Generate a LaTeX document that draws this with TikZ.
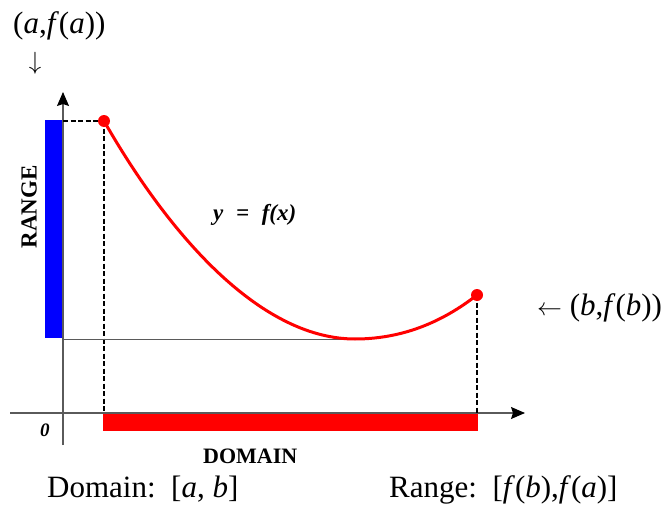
\documentclass[tikz,border=0pt]{standalone}
\usepackage{fontspec}
\setmainfont{Liberation Serif}
\usepackage{amsmath}
\usetikzlibrary{arrows.meta}

\begin{document}
\begin{tikzpicture}[x=1pt,y=-1pt,
    lbl/.style={inner sep=0pt,anchor=base west},
    axisline/.style={caxis,line width=1.2pt,-{Stealth[black,length=14pt,width=12pt,inset=2pt]}},
    guide/.style={dashed,line width=1.3pt,dash pattern=on 5pt off 2.5pt}]
  \definecolor{cdom}{RGB}{255,0,0}
  \definecolor{crng}{RGB}{0,0,255}
  \definecolor{caxis}{RGB}{90,90,90}
  \useasboundingbox (0,0) rectangle (665,514);
  % axes
  \coordinate (xs) at (10,413);
  \coordinate (xe) at (525,413);
  \coordinate (ys) at (63,445);
  \coordinate (ye) at (63,92);
  % points on the curve
  \coordinate (pa) at (104,121);
  \coordinate (pm) at (355,339);
  \coordinate (pb) at (477,295);
  \coordinate (ya) at (63,121);
  \coordinate (ym) at (63,339);
  \coordinate (xa) at (104,413);
  \coordinate (xb) at (477,413);
  % range and domain bars
  \fill[crng] (45,120) rectangle (63,338);
  \fill[cdom] (103,413) rectangle (478,431);
  \draw[axisline] (xs) -- (xe);
  \draw[axisline] (ys) -- (ye);
  \draw[guide] (ya) -- (pa);
  \draw[guide] (pa) -- (xa);
  \draw[guide] (pb) -- (xb);
  \draw[caxis,line width=0.8pt] (ym) -- (pm);
  \draw[cdom,line width=3pt] (pa) .. controls (175,245) and (265,339) .. (pm)
    .. controls (410,339) and (450,316) .. (pb);
  \fill[cdom] (pa) circle (6);
  \fill[cdom] (pb) circle (6);
  % labels
  \node[lbl,font=\fontsize{31}{36}\selectfont] (ptA) at (13,33)
    {(\textit{a},\textit{f\/}(\textit{a}))};
  \node[font=\fontsize{38}{42}\selectfont] (arrA) at (35,63) {$\downarrow$};
  \node[lbl,font=\fontsize{31}{36}\selectfont] (ptB) at (537,315)
    {$\leftarrow$ (\textit{b},\textit{f\/}(\textit{b}))};
  \node[rotate=90,font=\bfseries\fontsize{23}{26}\selectfont] (rng) at (29,207) {RANGE};
  \node[lbl,font=\bfseries\itshape\fontsize{23}{26}\selectfont] (fx) at (213,220)
    {y\hspace{0.55em}=\hspace{0.55em}f(x)};
  \node[lbl,font=\bfseries\itshape\fontsize{19}{22}\selectfont] (zero) at (40,436) {0};
  \node[lbl,font=\bfseries\fontsize{22}{26}\selectfont] (dom) at (203,463) {DOMAIN};
  \node[lbl,font=\fontsize{31}{36}\selectfont] (domtxt) at (47,497)
    {Domain:\ \ [\textit{a}, \textit{b}]};
  \node[lbl,font=\fontsize{31}{36}\selectfont] (rngtxt) at (389,497)
    {Range:\ \ [\textit{f\/}(\textit{b}),\textit{f\/}(\textit{a})]};
\end{tikzpicture}
\end{document}
